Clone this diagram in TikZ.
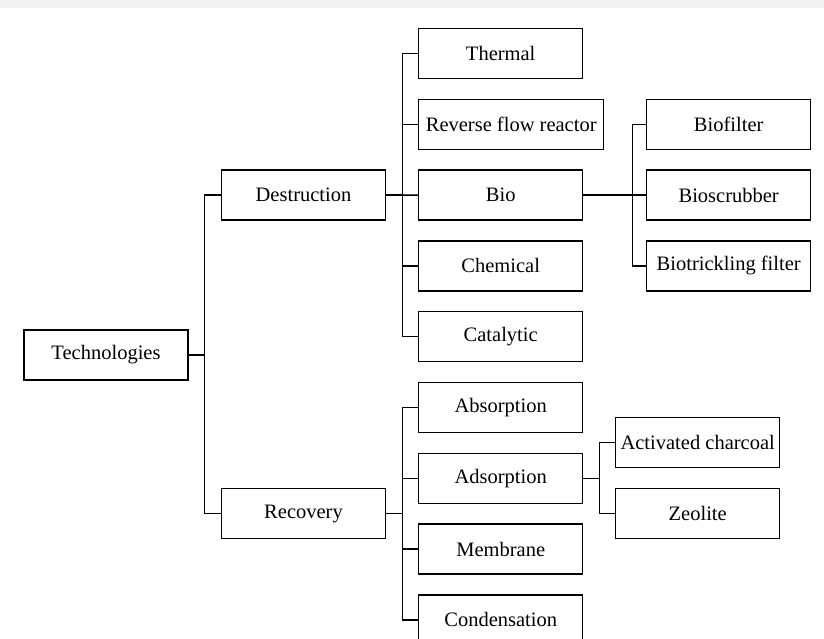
\documentclass[tikz,border=0pt]{standalone}
\usepackage{fontspec}
\setmainfont{Liberation Serif}
\usepackage{tikz}
\usetikzlibrary{positioning}

\begin{document}
\begin{tikzpicture}[
  x=1pt, y=-1pt,
  box/.style={rectangle, draw, line width=1.4pt, minimum width=164pt, minimum height=50pt,
              inner xsep=3pt, font=\fontsize{20.5}{24}\selectfont, align=center},
  conn/.style={line width=1.4pt}
]
\clip (0,0) rectangle (824,639);
\fill[gray!10] (0,0) rectangle (824,8);
% tree levels
\node[box] (tech) at (106,355) {Technologies};
\node[box] (destr) at (303.5,195) {Destruction};
\node[box] (recov) at (303.5,513.5) {Recovery};
% middle column, left aligned
\node[box, anchor=west] (thermal) at (418,53.5) {Thermal};
\node[box, minimum width=185pt, below=19.4pt of thermal.south west, anchor=north west] (rfr) {Reverse flow reactor};
\node[box, below=19.4pt of rfr.south west, anchor=north west] (bio)  {Bio};
\node[box, below=19.4pt of bio.south west, anchor=north west]  (chem) {Chemical};
\node[box, below=19.4pt of chem.south west, anchor=north west] (cat)  {Catalytic};
\node[box, below=19.4pt of cat.south west, anchor=north west]  (absorp) {Absorption};
\node[box, below=19.4pt of absorp.south west, anchor=north west] (adsorp) {Adsorption};
\node[box, below=19.4pt of adsorp.south west, anchor=north west] (membr) {Membrane};
\node[box, below=19.4pt of membr.south west, anchor=north west] (cond) {Condensation};
% right column
\node[box, right=62.6pt of bio] (bioscr) {Bioscrubber};
\node[box, above=19.4pt of bioscr] (biofil) {Biofilter};
\node[box, below=19.4pt of bioscr] (biotr) {Biotrickling filter};
\node[box, anchor=west] (charc) at (615,442.5) {Activated charcoal};
\node[box, below=19.4pt of charc] (zeol) {Zeolite};
% connectors
\draw[conn] (tech.east) -- ++(16,0) |- (destr.west);
\draw[conn] (tech.east) -- ++(16,0) |- (recov.west);
\draw[conn] (destr.east) -- ++(16,0) |- (thermal.west);
\draw[conn] (destr.east) -- ++(16,0) |- (rfr.west);
\draw[conn] (destr.east) -- (bio.west);
\draw[conn] (destr.east) -- ++(16,0) |- (chem.west);
\draw[conn] (destr.east) -- ++(16,0) |- (cat.west);
\draw[conn] (recov.east) -- ++(16,0) |- (absorp.west);
\draw[conn] (recov.east) -- ++(16,0) |- (adsorp.west);
\draw[conn] (recov.east) -- ++(16,0) |- (membr.west);
\draw[conn] (recov.east) -- ++(16,0) |- (cond.west);
\draw[conn] (bio.east) -- ++(49,0) |- (biofil.west);
\draw[conn] (bio.east) -- (bioscr.west);
\draw[conn] (bio.east) -- ++(49,0) |- (biotr.west);
\draw[conn] (adsorp.east) -- ++(16,0) |- (charc.west);
\draw[conn] (adsorp.east) -- ++(16,0) |- (zeol.west);
\end{tikzpicture}
\end{document}
